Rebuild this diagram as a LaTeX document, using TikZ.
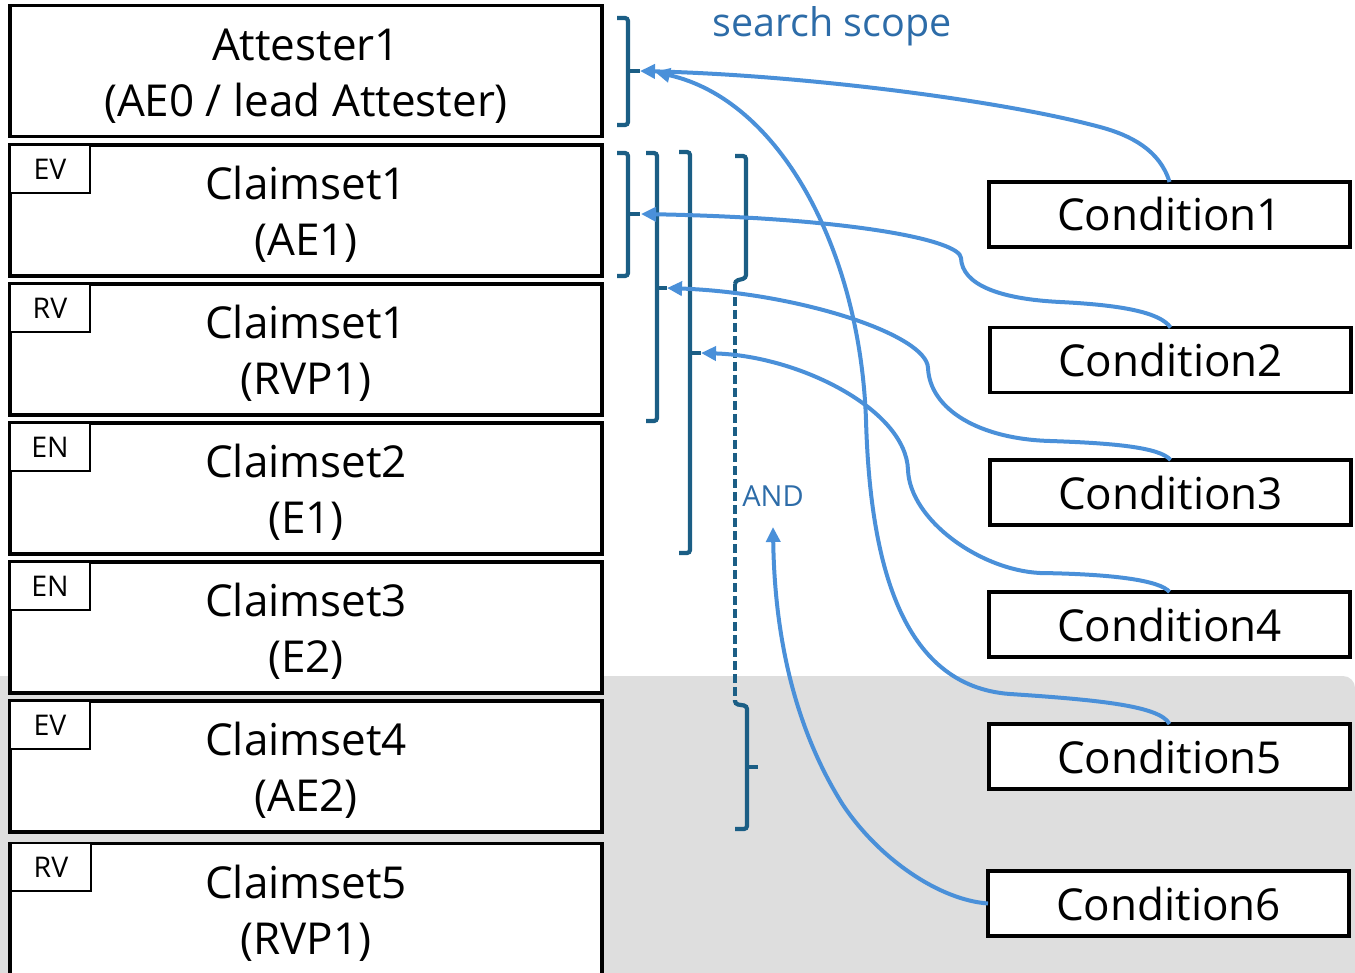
\documentclass[tikz,border=0pt]{standalone}
\usepackage{fontspec}
\setmainfont{Open Sans}
\usetikzlibrary{arrows.meta}
\definecolor{bggray}{HTML}{DEDEDE}
\definecolor{brk}{HTML}{1B5E85}
\definecolor{arr}{HTML}{4A90D9}
\definecolor{lbl}{HTML}{2D6CA8}
\newcommand{\mytwo}[2]{\rule{0pt}{41pt}#1\\#2}
\begin{document}
\begin{tikzpicture}[x=1pt,y=-1pt,
  mainbox/.style={draw=black, line width=3.5pt, fill=white, minimum width=592pt, minimum height=131pt, inner sep=0pt, outer sep=0pt, align=center, font=\fontsize{44}{56}\selectfont},
  tagbox/.style={draw=black, line width=2.5pt, fill=white, minimum width=80pt, minimum height=48pt, inner sep=0pt, outer sep=0pt, font=\fontsize{28.5}{30}\selectfont, anchor=north west},
  condbox/.style={draw=black, line width=3.5pt, fill=white, minimum width=361pt, minimum height=65pt, inner sep=0pt, outer sep=0pt, font=\fontsize{44}{50}\selectfont},
  brace/.style={draw=brk, line width=4.2pt, rounded corners=3pt},
  dbrace/.style={draw=brk, line width=3.8pt, dash pattern=on 9pt off 4pt},
  conn/.style={draw=arr, line width=4pt, -{Triangle[length=15pt,width=14pt]}},
  lbltext/.style={text=lbl, inner sep=0pt},
]
\useasboundingbox (0,0) rectangle (1355,973);
% grey background
\fill[bggray, rounded corners=12pt] (-30,676) rectangle (1355,1010);

% left column boxes
\node[mainbox] (att) at (306,71) {\mytwo{Attester1}{(AE0 / lead Attester)}};
\node[mainbox] (cs1) at (306,210.5) {\mytwo{Claimset1}{(AE1)}};
\node[mainbox] (rv1) at (306,349.5) {\mytwo{Claimset1}{(RVP1)}};
\node[mainbox] (cs2) at (306,488.5) {\mytwo{Claimset2}{(E1)}};
\node[mainbox] (cs3) at (306,627.5) {\mytwo{Claimset3}{(E2)}};
\node[mainbox] (cs4) at (306,766.5) {\mytwo{Claimset4}{(AE2)}};
\node[mainbox] (cs5) at (306,909) {\mytwo{Claimset5}{(RVP1)}};

\node[tagbox] (tg1) at (10,145) {EV};
\node[tagbox] (tg2) at (10,284) {RV};
\node[tagbox] (tg3) at (10,423) {EN};
\node[tagbox] (tg4) at (10,562) {EN};
\node[tagbox] (tg5) at (10,701) {EV};
\node[tagbox] (tg6) at (11,843) {RV};

% condition boxes
\node[condbox] (c1) at (1169.5,214.5) {Condition1};
\node[condbox] (c2) at (1170.5,360) {Condition2};
\node[condbox] (c3) at (1170.5,492.5) {Condition3};
\node[condbox] (c4) at (1169.5,624.5) {Condition4};
\node[condbox] (c5) at (1169.5,756.5) {Condition5};
\node[condbox] (c6) at (1168.5,903.5) {Condition6};

% labels
\node[lbltext, font=\fontsize{39.5}{42}\selectfont] (scope) at (832,26) {search scope};
\node[lbltext, font=\fontsize{29}{31}\selectfont] (andl) at (773,496) {AND};

% brackets
\draw[brace] (617,18) -- (628,18) -- (628,125) -- (617,125);
\draw[brace] (628,71) -- (640,71);
\draw[brace] (617,153) -- (628,153) -- (628,276) -- (617,276);
\draw[brace] (628,214) -- (640,214);
\draw[brace] (646,153) -- (657,153) -- (657,421) -- (646,421);
\draw[brace] (657,288) -- (667,288);
\draw[brace] (679,152) -- (690,152) -- (690,553) -- (679,553);
\draw[brace] (690,353) -- (701,353);
\draw[brace] (735,156) -- (746,156) -- (746,278) -- (735,281) -- (735,284);
\draw[brace] (746,218) -- (758,218);
\draw[dbrace] (735,284) -- (735,702);
\draw[brace] (735,700) -- (735,704) -- (747,706) -- (747,829) -- (735,829);
\draw[brace] (747,767) -- (758,767);

% arrow targets
\coordinate (t1) at (640,71);
\coordinate (t1b) at (655,72);
\coordinate (t2) at (641,214);
\coordinate (t3) at (667,288);
\coordinate (t4) at (701,353);
\coordinate (t6) at (773,527);

% connectors
\draw[conn] (c1.north) .. controls (1160,150) and (1130,135) .. (1100,127)
  .. controls (1000,100) and (800,75) .. (t1);
\draw[conn] (c2.north) .. controls (1160,312) and (1120,305) .. (1060,302)
  .. controls (1000,299) and (962,285) .. (961,258)
  .. controls (960,240) and (850,218) .. (t2);
\draw[conn] (c3.north) .. controls (1160,447) and (1110,443) .. (1050,441)
  .. controls (980,439) and (930,410) .. (928,368)
  .. controls (927,335) and (800,293) .. (t3);
\draw[conn] (c4.north) .. controls (1160,580) and (1110,574) .. (1040,573)
  .. controls (980,570) and (910,520) .. (908,470)
  .. controls (906,410) and (800,356) .. (t4);
\draw[conn] (c5.north) .. controls (1160,706) and (1100,700) .. (1010,694)
  .. controls (900,686) and (870,560) .. (866,420)
  .. controls (860,250) and (780,100) .. (t1b);
\draw[conn] (c6.west) .. controls (940,900) and (880,860) .. (843,805)
  .. controls (805,745) and (775,660) .. (t6);
\end{tikzpicture}
\end{document}
